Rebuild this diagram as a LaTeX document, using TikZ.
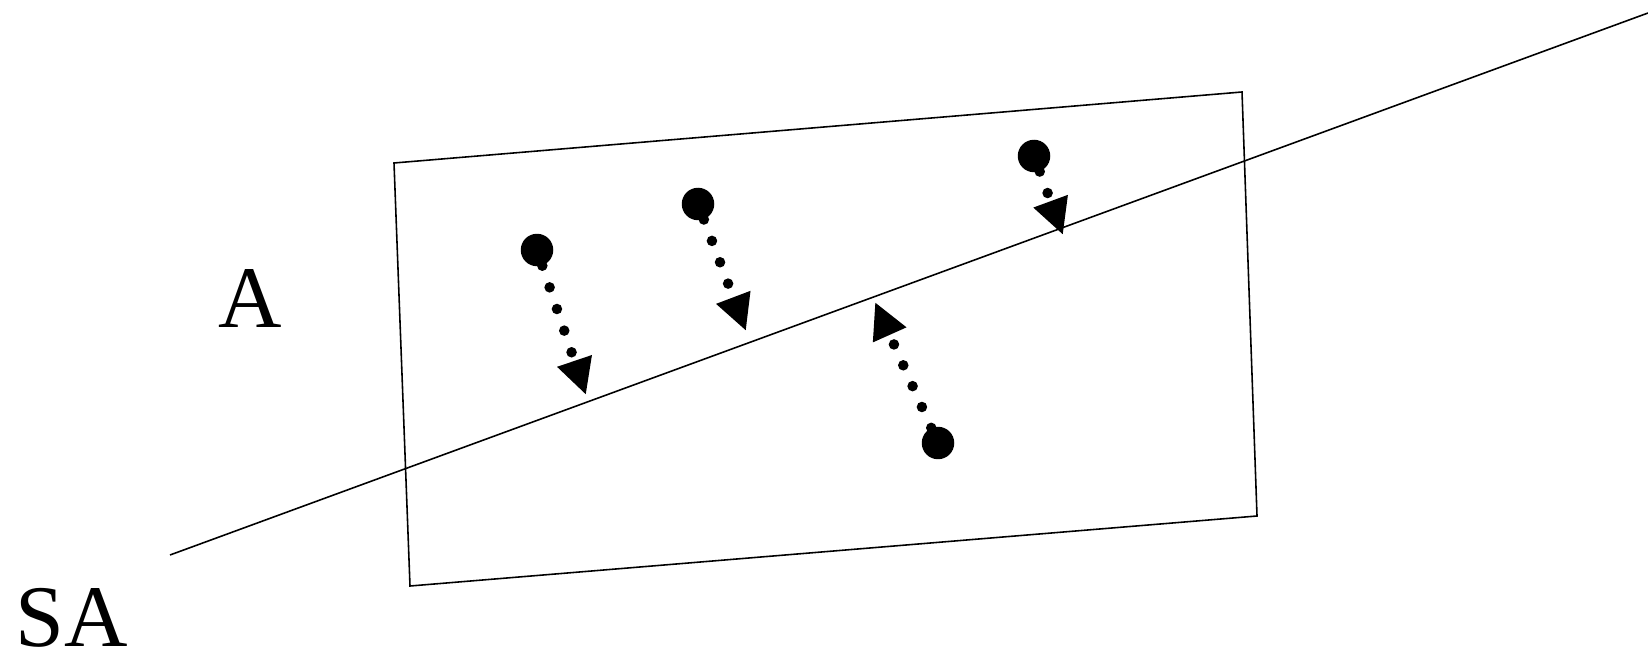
\documentclass[tikz,border=0pt]{standalone}
\usepackage{fontspec}
\setmainfont{Liberation Serif}
\usetikzlibrary{arrows.meta}

\begin{document}
\begin{tikzpicture}[x=0.02cm,y=-0.02cm,
    ball/.style ={circle, fill, inner sep=0pt, minimum size=0.65cm},
    move/.style ={line width=6pt, line cap=round, dash pattern=on 0pt off 13pt,
                  -{Triangle[length=0.72cm,width=0.68cm]}},
    label/.style ={inner sep=0pt, font=\fontsize{50}{50}\selectfont}]
   \useasboundingbox (0,0) rectangle (1648,651);
   % plane
   \coordinate (P1) at (394,163);
   \coordinate (P2) at (1242,92);
   \coordinate (P3) at (1257,516);
   \coordinate (P4) at (410,586);
   \draw[line width=0.9pt] (P1) -- (P2) -- (P3) -- (P4) -- cycle;
   % line
   \coordinate (L1) at (170,555);
   \coordinate (L2) at (1648,13);
   \draw[line width=0.9pt] (L1) -- (L2);
   % labels
   \node[label, anchor=base] (A) at (250,328) {A};
   \node[label, anchor=base west] (SA) at (15,646) {SA};
   % particles
   \node[ball] (B1) at (537,250) {};
   \node[ball] (B2) at (698,204) {};
   \node[ball] (B3) at (938,443) {};
   \node[ball] (B4) at (1034,156) {};
   \coordinate (T1) at (586,395);
   \coordinate (T2) at (746,331);
   \coordinate (T3) at (875,302);
   \coordinate (T4) at (1063,235);
   \draw[move] (B1) -- (T1);
   \draw[move] (B2) -- (T2);
   \draw[move] (B3) -- (T3);
   \draw[move] (B4) -- (T4);
 \end{tikzpicture}
\end{document}
